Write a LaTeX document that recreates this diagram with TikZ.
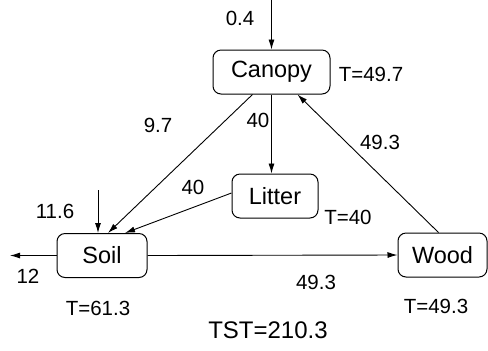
\documentclass[tikz,border=0pt]{standalone}
\usepackage{fontspec}
\setmainfont{Liberation Sans}
\usetikzlibrary{arrows.meta,positioning}

\begin{document}
\begin{tikzpicture}
  [x=0.5pt,y=-0.5pt,>={Latex[length=5pt,width=3pt]},
   pool/.style={rectangle,rounded corners=4pt,draw,line width=0.5pt,
                inner sep=0pt,minimum height=22pt,
                font=\fontsize{11.75}{14}\selectfont},
   flow/.style={->,line width=0.45pt},
   val/.style={inner sep=0pt,font=\fontsize{10.25}{12}\selectfont}]
  \useasboundingbox (0,0) rectangle (488,350);

  \node[pool,minimum width=58.5pt] (canopy) at (271.5,72)  {Canopy};
  \node[pool,minimum width=43pt]   (litter) at (275,196)   {Litter};
  \node[pool,minimum width=45pt]   (soil)   at (102,255.5) {Soil};
  \node[pool,minimum width=44.5pt] (wood)   at (442.5,255) {Wood};

  \coordinate (canopy in) at (271.5,0);
  \coordinate (soil in)   at (98,190);
  \coordinate (soil out)  at (10,255.5);

  % inputs and output
  \draw[flow] (canopy in) -- (canopy.north);
  \draw[flow] (soil in) -- (soil in |- soil.north);
  \draw[flow] (soil.west) -- (soil out);

  % internal flows
  \draw[flow] ([xshift=-9.5pt]canopy.south) -- ([xshift=3pt]soil.north);
  \draw[flow] (canopy.south) -- (canopy.south |- litter.north);
  \draw[flow] ([yshift=1.5pt]litter.west) -- ([xshift=11.5pt]soil.north);
  \draw[flow] (soil.east) -- (wood.west);
  \draw[flow] ([xshift=-2pt]wood.north) -- ([xshift=13pt]canopy.south);

  % flow values
  \node[val] (v canopy in) at (240,18)  {0.4};
  \node[val] (v soil in)   at (55,211)  {11.6};
  \node[val] (v soil out)  at (28,276)  {12};
  \node[val] (v c2s)       at (158,125) {9.7};
  \node[val] (v c2l)       at (258,120) {40};
  \node[val] (v l2s)       at (193,187) {40};
  \node[val] (v s2w)       at (316,282) {49.3};
  \node[val] (v w2c)       at (380,142) {49.3};

  % throughflows
  \node[val] (t canopy) at (371,74)  {T=49.7};
  \node[val] (t litter) at (348,217) {T=40};
  \node[val] (t soil)   at (98,308)  {T=61.3};
  \node[val] (t wood)   at (436,306) {T=49.3};
  \node[val,font=\fontsize{12}{14}\selectfont] (tst) at (268,330) {TST=210.3};
\end{tikzpicture}
\end{document}
